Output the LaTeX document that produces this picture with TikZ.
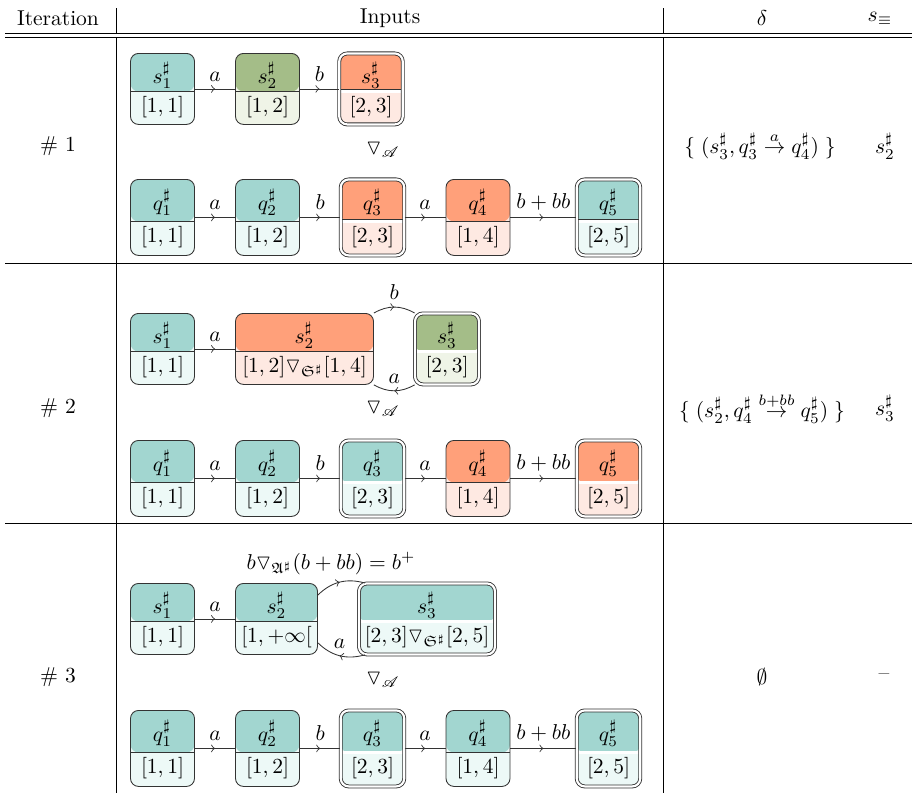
\documentclass[tikz,border=0pt]{standalone}
\usepackage{amsmath,amssymb,mathrsfs}
\usetikzlibrary{decorations.markings}
\definecolor{tealT}{RGB}{162,214,208}
\definecolor{tealB}{RGB}{237,249,247}
\definecolor{greenT}{RGB}{164,189,136}
\definecolor{greenB}{RGB}{239,244,231}
\definecolor{salT}{RGB}{255,160,122}
\definecolor{salB}{RGB}{254,233,226}
\colorlet{boxtopcolor}{tealT}
\newdimen\px
\px=0.4651pt
\def\divpos{38}
\tikzset{
  abox/.style={draw=black!80, line width=0.4pt, rounded corners=8\px, inner sep=0pt, anchor=north,
    path picture={
      \fill[boxtopcolor] ([yshift=2pt]path picture bounding box.north west) rectangle
        ([yshift=-\divpos\px]path picture bounding box.north east);
      \draw[black!80, line width=0.4pt, divline] ([yshift=-\divpos\px]path picture bounding box.north west) --
        ([yshift=-\divpos\px]path picture bounding box.north east);
    }},
  divline/.style={},
  sgeom/.code={\def\divpos{38}\pgfkeysalso{minimum height=71\px}},
  qgeom/.code={\def\divpos{42}\pgfkeysalso{minimum height=76\px}},
  bw/.style={minimum width=#1\px},
  tealbox/.code={\colorlet{boxtopcolor}{tealT}\pgfkeysalso{fill=tealB}},
  greenbox/.code={\colorlet{boxtopcolor}{greenT}\pgfkeysalso{fill=greenB}},
  salbox/.code={\colorlet{boxtopcolor}{salT}\pgfkeysalso{fill=salB}},
  finalbox/.style={double, double distance=1pt, divline/.style={double=white, double distance=1pt}},
  lbl/.style={anchor=base, inner sep=0pt},
  tr/.style={draw=black!80, line width=0.4pt, postaction={decorate},
    decoration={markings, mark=at position 0.5 with {\arrow{to}}}},
  lab/.style={midway, above},
  tabrule/.style={line width=0.4pt},
}
% name, options, x, top y, top text, bottom text
\newcommand{\mkS}[6]{%
  \node[abox,sgeom,#2] (#1) at (#3,#4) {};
  \node[lbl] (#1t) at ([yshift=-30\px]#1.north) {$#5$};
  \node[lbl] (#1b) at ([yshift=-59\px]#1.north) {$#6$};
}
\newcommand{\mkQ}[6]{%
  \node[abox,qgeom,#2] (#1) at (#3,#4) {};
  \node[lbl] (#1t) at ([yshift=-31\px]#1.north) {$#5$};
  \node[lbl] (#1b) at ([yshift=-63\px]#1.north) {$#6$};
}
\begin{document}
\begin{tikzpicture}[x=0.4651pt,y=-0.4651pt]
\useasboundingbox (0,0) rectangle (912,793);
% table rules
\draw[tabrule] (5,33.5) -- (912,33.5) (5,37.5) -- (912,37.5);
\draw[tabrule] (5,263) -- (912,263) (5,523) -- (912,523);
\draw[tabrule] (116,8) -- (116,33.5) (116,37.5) -- (116,793);
\draw[tabrule] (663,8) -- (663,33.5) (663,37.5) -- (663,793);
% header
\node (hIt) at (58,18) {Iteration};
\node (hIn) at (390,18) {Inputs};
\node (hD) at (762,18) {$\delta$};
\node (hS) at (880,18) {$s_\equiv$};
% ---------------- row 1
\node (it1) at (58,146) {\# 1};
\mkS{r1s1}{tealbox,bw=64}{162.5}{53}{s^\sharp_1}{[1,1]}
\mkS{r1s2}{greenbox,bw=64}{267.5}{53}{s^\sharp_2}{[1,2]}
\mkS{r1s3}{salbox,finalbox,bw=63.5}{371}{53}{s^\sharp_3}{[2,3]}
\draw[tr] (r1s1) -- node[lab]{$a$} (r1s2);
\draw[tr] (r1s2) -- node[lab]{$b$} (r1s3);
\node (w1) at (383,150) {$\triangledown_{\mathscr{A}}$};
\mkQ{r1q1}{tealbox,bw=64}{162.5}{179}{q^\sharp_1}{[1,1]}
\mkQ{r1q2}{tealbox,bw=64}{267.5}{179}{q^\sharp_2}{[1,2]}
\mkQ{r1q3}{salbox,finalbox,bw=63.5}{372.5}{179}{q^\sharp_3}{[2,3]}
\mkQ{r1q4}{salbox,bw=64}{478}{179}{q^\sharp_4}{[1,4]}
\mkQ{r1q5}{tealbox,finalbox,bw=63.5}{608.5}{179}{q^\sharp_5}{[2,5]}
\draw[tr] (r1q1) -- node[lab]{$a$} (r1q2);
\draw[tr] (r1q2) -- node[lab]{$b$} (r1q3);
\draw[tr] (r1q3) -- node[lab]{$a$} (r1q4);
\draw[tr] (r1q4) -- node[lab]{$b+bb$} (r1q5);
\node (d1) at (760,146) {$\{\;(s^\sharp_3, q^\sharp_3 \stackrel{a}{\to} q^\sharp_4)\;\}$};
\node (e1) at (885,146) {$s^\sharp_2$};
% ---------------- row 2
\node (it2) at (58,408) {\# 2};
\mkS{r2s1}{tealbox,bw=64}{162.5}{313}{s^\sharp_1}{[1,1]}
\mkS{r2s2}{salbox,bw=138}{304.5}{313}{s^\sharp_2}{[1,2]\triangledown_{\mathfrak{S}^\sharp}[1,4]}
\mkS{r2s3}{greenbox,finalbox,bw=64}{447}{313}{s^\sharp_3}{[2,3]}
\draw[tr] (r2s1) -- node[lab]{$a$} (r2s2);
\draw[tr] (r2s2.north east) to[bend left=30] node[lab]{$b$} (r2s3.north west);
\draw[tr] (r2s3.south west) to[bend left=30] node[lab]{$a$} (r2s2.south east);
\node (w2) at (383,409) {$\triangledown_{\mathscr{A}}$};
\mkQ{r2q1}{tealbox,bw=64}{162.5}{440}{q^\sharp_1}{[1,1]}
\mkQ{r2q2}{tealbox,bw=64}{267.5}{440}{q^\sharp_2}{[1,2]}
\mkQ{r2q3}{tealbox,finalbox,bw=63.5}{372.5}{440}{q^\sharp_3}{[2,3]}
\mkQ{r2q4}{salbox,bw=64}{478}{440}{q^\sharp_4}{[1,4]}
\mkQ{r2q5}{salbox,finalbox,bw=63.5}{608.5}{440}{q^\sharp_5}{[2,5]}
\draw[tr] (r2q1) -- node[lab]{$a$} (r2q2);
\draw[tr] (r2q2) -- node[lab]{$b$} (r2q3);
\draw[tr] (r2q3) -- node[lab]{$a$} (r2q4);
\draw[tr] (r2q4) -- node[lab]{$b+bb$} (r2q5);
\node (d2) at (762,408) {$\{\;(s^\sharp_2, q^\sharp_4 \stackrel{b+bb}{\to} q^\sharp_5)\;\}$};
\node (e2) at (885,408) {$s^\sharp_3$};
% ---------------- row 3
\node (it3) at (58,677) {\# 3};
\mkS{r3s1}{tealbox,bw=64}{162.5}{583}{s^\sharp_1}{[1,1]}
\mkS{r3s2}{tealbox,bw=82}{276.5}{583}{s^\sharp_2}{[1,+\infty[}
\mkS{r3s3}{tealbox,finalbox,bw=136}{427}{583}{s^\sharp_3}{[2,3]\triangledown_{\mathfrak{S}^\sharp}[2,5]}
\draw[tr] (r3s1) -- node[lab]{$a$} (r3s2);
\draw[tr] (r3s2) to[bend left=30]
  node[above, xshift=-4pt]{$b\triangledown_{\mathfrak{A}^\sharp}(b+bb)=b^+$} (r3s3);
\draw[tr] (r3s3) to[bend left=30] node[lab]{$a$} (r3s2);
\node (w3) at (383,680) {$\triangledown_{\mathscr{A}}$};
\mkQ{r3q1}{tealbox,bw=64}{162.5}{710}{q^\sharp_1}{[1,1]}
\mkQ{r3q2}{tealbox,bw=64}{267.5}{710}{q^\sharp_2}{[1,2]}
\mkQ{r3q3}{tealbox,finalbox,bw=63.5}{372.5}{710}{q^\sharp_3}{[2,3]}
\mkQ{r3q4}{tealbox,bw=64}{478}{710}{q^\sharp_4}{[1,4]}
\mkQ{r3q5}{tealbox,finalbox,bw=63.5}{608.5}{710}{q^\sharp_5}{[2,5]}
\draw[tr] (r3q1) -- node[lab]{$a$} (r3q2);
\draw[tr] (r3q2) -- node[lab]{$b$} (r3q3);
\draw[tr] (r3q3) -- node[lab]{$a$} (r3q4);
\draw[tr] (r3q4) -- node[lab]{$b+bb$} (r3q5);
\node (d3) at (762,677) {$\emptyset$};
\node (e3) at (884,677) {--};
\end{tikzpicture}
\end{document}
